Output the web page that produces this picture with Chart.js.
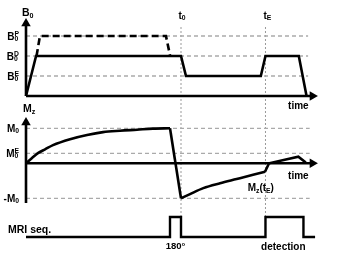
<!DOCTYPE html>
<html>
<head>
<meta charset="utf-8">
<script src="https://cdn.jsdelivr.net/npm/chart.js@4/dist/chart.umd.min.js"></script>
<style>
  html, body { margin: 0; padding: 0; background: #fff; }
  canvas { display: block; }
</style>
</head>
<body>
<canvas id="relax-chart" width="341" height="259"></canvas>
<script>
// time in arbitrary units, t0 = end of the 180 pulse, tE = start of detection
const t0 = 10
const tE = 15.45
const tArrow = 18.48

// B0 field levels: prepolarisation, detection, evolution
const b0Levels = [3, 2, 1]
const b0Names = ['P', 'D', 'E']
const b0Line = [[0, 0], [0.65, 2], [10, 2], [10.32, 1], [15.15, 1], [15.45, 2], [17.6, 2], [18.1, 0]]
const b0Prepol = [[0.68, 2], [0.9, 3], [9.03, 3], [9.3, 2]]

// magnetisation Mz (in units of M0)
const mzLevels = [1, 0.286, -1]
const mzRise = [[0, 0], [0.39, 0.15], [0.77, 0.29], [1.23, 0.4], [1.74, 0.52], [2.84, 0.69], [3.94, 0.81],
  [4.97, 0.89], [6.06, 0.93], [7.16, 0.96], [8.19, 0.99], [9.29, 1]]
const mzFlip = [[9.29, 1], [10, -1]]
const mzRecover = [[10, -1], [10.58, -0.88], [11.44, -0.71], [12.52, -0.57], [13.59, -0.45], [14.65, -0.33], [15.42, -0.24]]
const mzDetect = [[15.42, -0.24], [15.68, 0], [17.57, 0.19], [18.05, 0.02]]

// MRI sequence: 180 pulse and detection window
const seqLine = [[0, 0], [9.29, 0], [9.29, 1], [10, 1], [10, 0], [15.45, 0], [15.45, 1], [17.9, 1], [17.9, 0], [18.65, 0]]

const pts = arr => arr.map(([x, y]) => ({x, y}))

const FONT = '"Liberation Sans", Arial, sans-serif'

function line(data, axis, extra) {
  return Object.assign({
    data: pts(data),
    yAxisID: axis,
    borderColor: '#000',
    borderWidth: 2.6,
    pointRadius: 0,
    tension: 0,
    borderJoinStyle: 'miter',
    clip: false,
    order: 1
  }, extra)
}

const datasets = []
b0Levels.forEach(v => datasets.push(line([[0, v], [18.2, v]], 'yB', {borderColor: '#aaa', borderWidth: 1.3, borderDash: [4, 3], order: 5})))
mzLevels.forEach(v => datasets.push(line([[0, v], [18.3, v]], 'yM', {borderColor: '#aaa', borderWidth: 1.3, borderDash: [4, 3], order: 5})))
;[t0, tE].forEach(t => datasets.push(line([[t, 1], [t, 10.6]], 'yS', {borderColor: '#999', borderWidth: 1, borderDash: [2, 2], order: 5})))

datasets.push(line(b0Prepol, 'yB', {borderDash: [7, 4]}))
datasets.push(line(b0Line, 'yB'))
datasets.push(line(mzRise, 'yM', {cubicInterpolationMode: 'monotone'}))
datasets.push(line(mzFlip, 'yM'))
datasets.push(line(mzRecover, 'yM', {cubicInterpolationMode: 'monotone'}))
datasets.push(line(mzDetect, 'yM'))
datasets.push(line(seqLine, 'yS', {borderWidth: 2.4}))

// axes with arrow heads
const arrow = {pointStyle: 'triangle', pointRadius: [0, 5.5], pointBackgroundColor: '#000', pointBorderWidth: 0, order: 0}
datasets.push(line([[0, 0], [0, 3.625]], 'yB', Object.assign({}, arrow, {pointRotation: [0, 0]})))
datasets.push(line([[0, 0], [tArrow, 0]], 'yB', Object.assign({}, arrow, {pointRotation: [0, 90]})))
datasets.push(line([[0, -1.134], [0, 1.166]], 'yM', Object.assign({}, arrow, {pointRotation: [0, 0]})))
datasets.push(line([[0, 0], [tArrow, 0]], 'yM', Object.assign({}, arrow, {pointRotation: [0, 90]})))

// text with sub/superscripts: {n: normal} or {p: sup, b: sub}
function partWidth(ctx, p, size) {
  if (p.n !== undefined) { ctx.font = 'bold ' + size + 'px ' + FONT; return ctx.measureText(p.n).width }
  ctx.font = 'bold ' + (size * 0.68) + 'px ' + FONT
  return Math.max(p.p ? ctx.measureText(p.p).width : 0, p.b ? ctx.measureText(p.b).width : 0)
}
function rich(ctx, parts, x, mid, align, size) {
  size = size || 10
  const w = parts.reduce((s, p) => s + partWidth(ctx, p, size), 0)
  let cx = align === 'right' ? x - w : align === 'center' ? x - w / 2 : x
  const base = mid + size * 0.36
  ctx.textAlign = 'left'
  ctx.textBaseline = 'alphabetic'
  ctx.fillStyle = '#000'
  parts.forEach(p => {
    const pw = partWidth(ctx, p, size)
    if (p.n !== undefined) ctx.fillText(p.n, cx, base)
    else {
      if (p.p) ctx.fillText(p.p, cx, base - size * 0.38)
      if (p.b) ctx.fillText(p.b, cx, base + size * 0.12)
    }
    cx += pw
  })
}

const labelPlugin = {
  id: 'schemeLabels',
  afterDatasetsDraw(chart) {
    const {ctx, scales: {x, yB, yM, yS}} = chart
    const ax = x.getPixelForValue(0)
    ctx.save()
    rich(ctx, [{n: 'B'}, {b: '0'}], ax - 4, 12.5, 'left', 10.5)
    b0Levels.forEach((v, i) => rich(ctx, [{n: 'B'}, {p: b0Names[i], b: '0'}], ax - 7, yB.getPixelForValue(v), 'right'))
    rich(ctx, [{n: 'M'}, {b: 'z'}], ax - 3, 108.5, 'left', 10.5)
    rich(ctx, [{n: 'M'}, {b: '0'}], ax - 7, yM.getPixelForValue(mzLevels[0]), 'right')
    rich(ctx, [{n: 'M'}, {p: 'E', b: '0'}], ax - 7, yM.getPixelForValue(mzLevels[1]), 'right')
    rich(ctx, [{n: '-M'}, {b: '0'}], ax - 7, yM.getPixelForValue(mzLevels[2]), 'right')
    rich(ctx, [{n: 't'}, {b: '0'}], x.getPixelForValue(t0) + 1, 15, 'center')
    rich(ctx, [{n: 't'}, {b: 'E'}], x.getPixelForValue(tE) + 2, 15, 'center')
    rich(ctx, [{n: 'time'}], x.getPixelForValue(17.57), yB.getPixelForValue(0) + 9.5, 'center')
    rich(ctx, [{n: 'time'}], x.getPixelForValue(17.57), yM.getPixelForValue(0) + 12, 'center')
    rich(ctx, [{n: 'M'}, {b: 'z'}, {n: '(t'}, {b: 'E'}, {n: ')'}], x.getPixelForValue(15.15), yM.getPixelForValue(-0.7), 'center')
    rich(ctx, [{n: 'MRI seq.'}], 8, yS.getPixelForValue(0.4), 'left', 10.5)
    rich(ctx, [{n: '180°'}], x.getPixelForValue(9.65), yS.getPixelForValue(-0.45), 'center', 9.5)
    rich(ctx, [{n: 'detection'}], x.getPixelForValue(16.6), yS.getPixelForValue(-0.45), 'center', 10)
    ctx.restore()
  }
}

const ctxScheme = document.getElementById('relax-chart')
const schemeChart = new Chart(ctxScheme, {
  type: 'line',
  data: {datasets: datasets},
  options: {
    responsive: false,
    animation: false,
    events: [],
    layout: {padding: 0, autoPadding: false},
    plugins: {legend: {display: false}, tooltip: {enabled: false}},
    scales: {
      x: {type: 'linear', min: -26 / 15.5, max: 315 / 15.5, display: false},
      yB: {type: 'linear', position: 'left', min: -8.15, max: 4.8, display: false},
      yM: {type: 'linear', position: 'left', min: -95.7 / 35, max: 163.3 / 35, display: false},
      yS: {type: 'linear', position: 'left', min: -1.1, max: 11.85, display: false}
    }
  },
  plugins: [labelPlugin]
})
</script>
</body>
</html>
